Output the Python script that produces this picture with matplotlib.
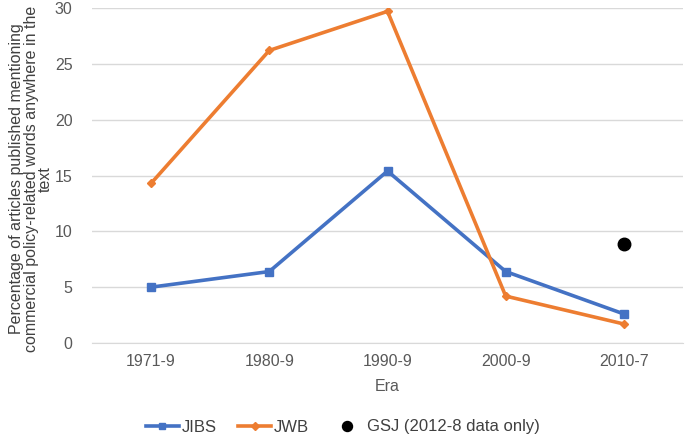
import numpy as np
import matplotlib
matplotlib.use("Agg")
import matplotlib.pyplot as plt

plt.rcParams['font.family'] = ['Liberation Sans', 'DejaVu Sans']

# data
eras = ["1971-9", "1980-9", "1990-9", "2000-9", "2010-7"]
jibs = [5.0, 6.4, 15.4, 6.4, 2.6]
jwb = [14.3, 26.2, 29.7, 4.2, 1.7]
gsj_era = "2010-7"
gsj = [8.9]

fig = plt.figure(figsize=(6.85, 4.38), dpi=100)
ax = fig.add_axes([92/685, 1-343/438, 591/685, 335/438])

x = np.arange(len(eras))
ax.plot(x, jibs, color="#4472C4", lw=2.6, marker="s", ms=6, label="JIBS")
ax.plot(x, jwb, color="#ED7D31", lw=2.6, marker="D", ms=4.5, label="JWB")
ax.plot([eras.index(gsj_era)], gsj, ls="none", marker="o", ms=9,
        color="black", label="GSJ (2012-8 data only)")

ax.set_xlim(-0.5, len(eras) - 0.5)
ax.set_ylim(0, 30)
ax.set_yticks(range(0, 31, 5))
ax.set_xticks(x)
ax.set_xticklabels(eras)
ax.grid(axis="y", color="#D9D9D9", lw=1)
ax.set_axisbelow(True)
for s in ["top", "right", "left"]:
    ax.spines[s].set_visible(False)
ax.spines["bottom"].set_color("#D9D9D9")
ax.tick_params(length=0, labelsize=11.5, colors="#595959", pad=8)
ax.tick_params(axis="y", pad=14)

ax.set_xlabel("Era", fontsize=11.5, color="#595959", labelpad=7)
ax.set_ylabel("Percentage of articles published mentioning\ncommercial policy-related words anywhere in the\ntext",
              fontsize=11.5, color="#404040", linespacing=0.95)
ax.yaxis.set_label_coords(-0.066, 0.49)

leg = fig.legend(loc="center", bbox_to_anchor=(0.5, 1-427/438), ncol=3, frameon=False,
                 fontsize=12, handlelength=2.0, columnspacing=1.3, handletextpad=0.15,
                 labelcolor="#404040", markerscale=0.8)

fig.savefig("out.png", dpi=100)
